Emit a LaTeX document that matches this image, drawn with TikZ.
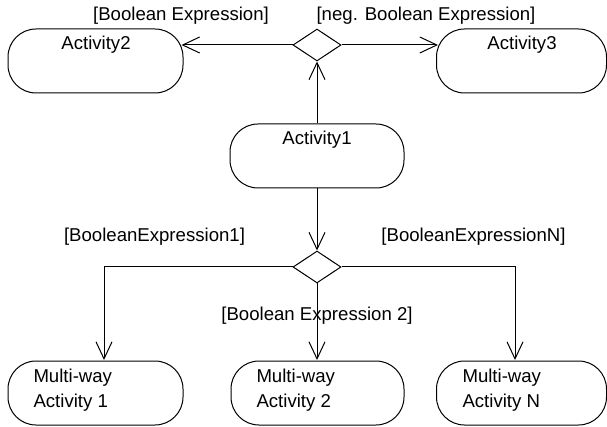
\documentclass[tikz,border=0pt]{standalone}
\usepackage{fontspec}
\setmainfont{Liberation Sans}
\usetikzlibrary{arrows.meta,shapes.geometric}
\begin{document}
\begin{tikzpicture}[x=1pt,y=-1pt, line width=1pt,
  act/.style={draw, rounded corners=28pt, minimum height=64pt, inner sep=0pt},
  dec/.style={draw, diamond, minimum width=48pt, minimum height=32pt, inner sep=0pt},
  txt/.style={font=\fontsize{18.6}{25}\selectfont, inner sep=0pt},
  flow/.style={-{Straight Barb[length=17pt,width=16pt,line width=1pt]}}]
\useasboundingbox (0,0) rectangle (607,427);
% activity boxes
\node[act, minimum width=175pt] (a2) at (95.5,61) {};
\node[act, minimum width=170pt] (a3) at (521.5,61) {};
\node[act, minimum width=174pt] (a1) at (317,156) {};
\node[act, minimum width=175pt] (m1) at (95.5,393) {};
\node[act, minimum width=173pt] (m2) at (317.5,393) {};
\node[act, minimum width=170pt] (mn) at (521.5,393) {};
% decisions
\node[dec] (d1) at (317,45) {};
\node[dec] (d2) at (317,267) {};
% texts
\node[txt, anchor=base] (t2) at (96,50) {Activity2};
\node[txt, anchor=base] (t3) at (522,50) {Activity3};
\node[txt, anchor=base] (t1) at (317,145) {Activity1};
\node[txt, anchor=base west] (m1a) at (33,382) {Multi-way};
\node[txt, anchor=base west] (m1b) at (33,407) {Activity 1};
\node[txt, anchor=base west] (m2a) at (256,382) {Multi-way};
\node[txt, anchor=base west] (m2b) at (256,407) {Activity 2};
\node[txt, anchor=base west] (mna) at (462,382) {Multi-way};
\node[txt, anchor=base west] (mnb) at (462,407) {Activity N};
% guard labels
\node[txt, anchor=base] (g1) at (181,21) {[Boolean Expression]};
\node[txt, anchor=base] (g2) at (426,21) {[neg. Boolean Expression]};
\node[txt, anchor=base] (g3) at (154.5,242) {[BooleanExpression1]};
\node[txt, anchor=base] (g4) at (473.5,242) {[BooleanExpressionN]};
\node[txt, anchor=base] (g5) at (317,320) {[Boolean Expression 2]};
% junction coordinates
\coordinate (c1) at (104,360);
\coordinate (cn) at (515,360);
\coordinate (c2) at (317,360);
\coordinate (e2) at (181.5,45);
\coordinate (e3) at (438,45);
% connectors
\draw[flow] (a1.north) -- (d1.south);
\draw[flow] (d1.west) -- (e2);
\draw[flow] (d1.east) -- (e3);
\draw[flow] (a1.south) -- (d2.north);
\draw[flow] (d2.west) -| (c1);
\draw[flow] (d2.east) -| (cn);
\draw[flow] (d2.south) -- (c2);
\end{tikzpicture}
\end{document}
